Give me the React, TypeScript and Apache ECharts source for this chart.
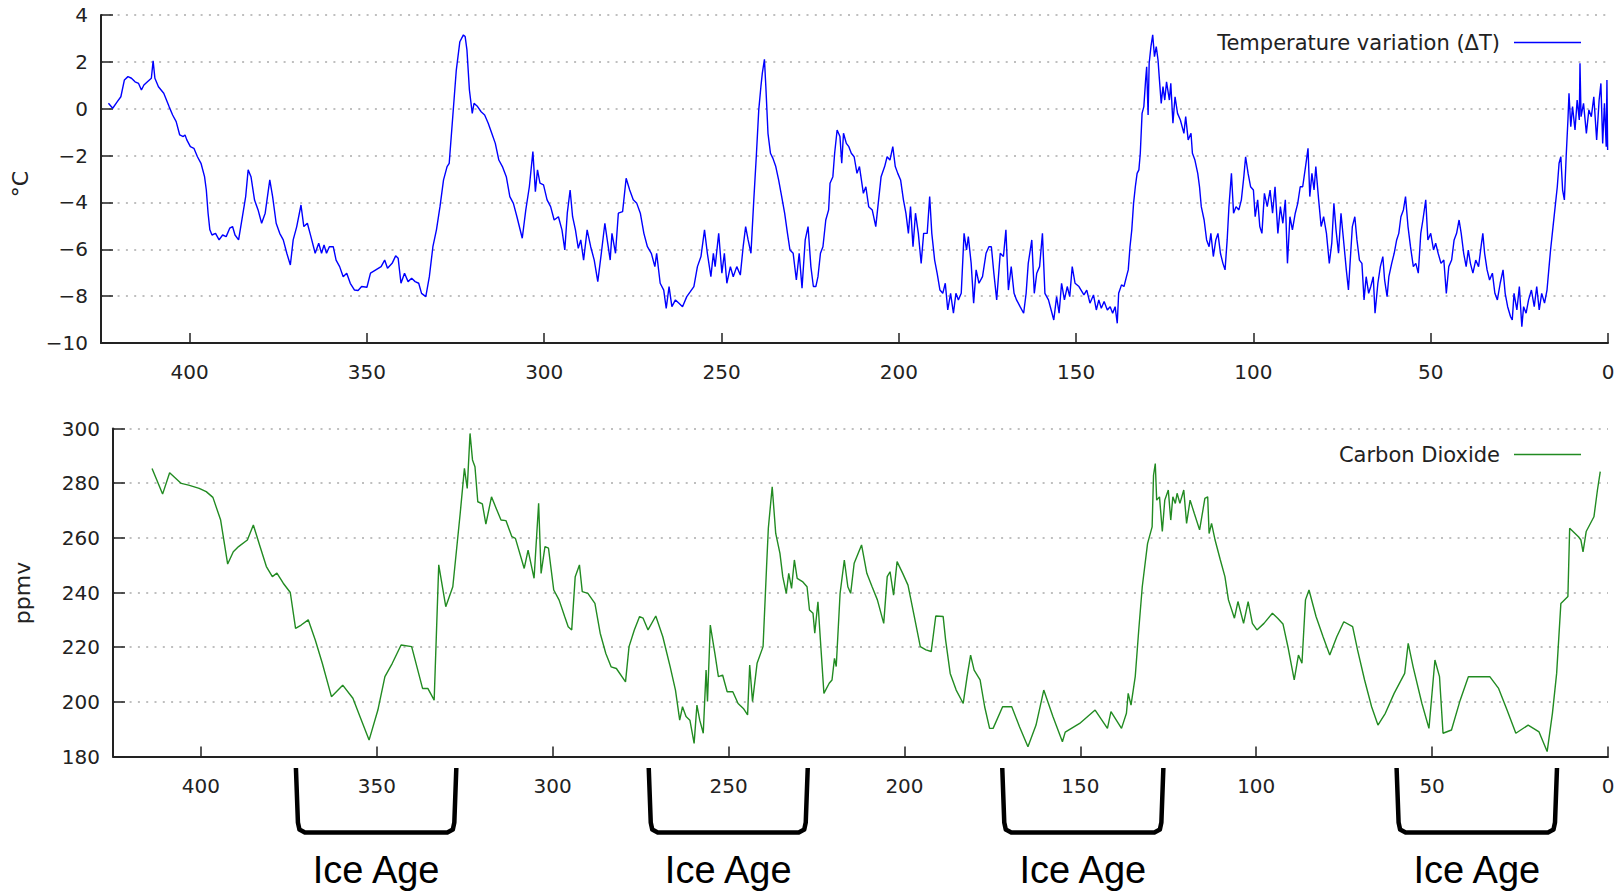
import React, { useEffect, useRef } from "react";
import * as echarts from "echarts";

// Vostok ice core record: age in thousands of years before present
const ageTicks = [0, 50, 100, 150, 200, 250, 300, 350, 400];

// [age (kyr BP), temperature variation ΔT (°C)]
const temperature: [number, number][] = [
  [422.9, 0.23], [421.7, 0.02], [420.4, 0.3], [419.4, 0.51], [418.4, 1.23], [417.4, 1.37], [416.4, 1.3],
  [415.4, 1.15], [414.4, 1.08], [413.6, 0.8], [412.9, 1.01], [411.9, 1.15], [410.8, 1.3], [410.3, 2.04],
  [409.8, 1.3], [408.8, 0.94], [407.3, 0.66], [405.8, 0.09], [404.8, -0.27], [403.8, -0.55], [402.8, -1.12],
  [401.8, -1.19], [401.3, -1.12], [400.8, -1.33], [399.8, -1.62], [398.8, -1.69], [397.8, -2.05], [396.8, -2.33],
  [395.8, -2.9], [395.3, -3.47], [394.8, -4.46], [394.3, -5.17], [393.7, -5.39], [392.7, -5.32], [391.7, -5.6],
  [390.7, -5.39], [389.7, -5.46], [388.7, -5.1], [387.9, -5.03], [387.2, -5.39], [386.2, -5.6], [385.2, -4.68],
  [384.2, -3.75], [383.5, -2.61], [382.7, -2.9], [381.7, -3.9], [380.7, -4.32], [379.7, -4.89], [378.7, -4.46],
  [377.4, -3.04], [376.6, -3.75], [375.6, -4.89], [374.6, -5.32], [373.6, -5.6], [372.6, -6.17], [371.6, -6.67],
  [370.8, -5.6], [369.8, -5.03], [368.6, -4.11], [367.8, -5.03], [366.8, -4.89], [365.8, -5.46], [364.6, -6.17],
  [363.6, -5.74], [362.8, -6.17], [362.1, -5.82], [361.4, -6.17], [360.6, -5.89], [359.5, -5.89], [358.7, -6.46],
  [357.7, -6.74], [356.7, -7.17], [355.7, -7.02], [354.7, -7.45], [353.5, -7.74], [352.5, -7.76], [351.5, -7.59],
  [350.0, -7.62], [349.0, -7.02], [347.5, -6.88], [346.0, -6.74], [345.0, -6.46], [344.2, -6.81], [342.9, -6.6],
  [341.9, -6.28], [341.2, -6.38], [340.4, -7.45], [339.4, -7.02], [338.4, -7.38], [337.4, -7.24], [336.4, -7.38],
  [335.4, -7.45], [334.6, -7.88], [333.4, -8.02], [332.4, -7.17], [331.4, -5.89], [330.4, -5.17], [329.4, -4.18],
  [328.4, -3.04], [327.4, -2.47], [326.8, -2.33], [325.8, -0.34], [324.8, 1.65], [323.8, 2.86], [322.8, 3.15],
  [322.3, 3.08], [321.8, 2.51], [321.1, 0.8], [320.3, -0.2], [319.8, 0.23], [318.8, 0.09], [317.8, -0.13],
  [316.8, -0.27], [315.8, -0.62], [314.8, -1.05], [313.8, -1.48], [312.8, -2.19], [311.8, -2.47], [310.7, -2.9],
  [309.7, -3.75], [308.7, -4.04], [307.7, -4.61], [306.2, -5.53], [305.2, -4.32], [304.2, -3.33], [303.2, -1.83],
  [302.5, -3.54], [301.9, -2.61], [301.2, -3.18], [300.2, -3.25], [299.2, -3.89], [298.2, -4.18], [297.2, -4.75],
  [296.0, -4.61], [295.0, -5.17], [294.2, -6.03], [293.5, -4.46], [292.7, -3.47], [292.0, -4.61], [291.2, -5.17],
  [290.4, -5.96], [289.7, -5.6], [288.9, -6.46], [287.9, -5.17], [286.9, -5.89], [285.9, -6.46], [284.9, -7.38],
  [283.9, -6.17], [282.9, -4.89], [282.1, -5.74], [281.4, -6.46], [280.9, -5.32], [279.9, -6.17], [279.1, -4.46],
  [277.9, -4.39], [276.9, -2.97], [275.9, -3.47], [274.9, -3.89], [273.9, -4.04], [272.9, -4.46], [271.9, -5.32],
  [270.9, -5.89], [269.8, -6.17], [268.8, -6.74], [268.3, -6.17], [267.3, -7.45], [266.3, -7.74], [265.6, -8.52],
  [264.8, -7.59], [264.0, -8.45], [263.0, -8.16], [262.0, -8.3], [261.0, -8.45], [259.8, -8.02], [258.8, -7.81],
  [257.8, -7.59], [256.8, -6.74], [255.8, -6.31], [254.8, -5.17], [254.0, -6.17], [253.0, -7.17], [252.3, -6.17],
  [251.8, -6.74], [250.8, -5.32], [249.9, -7.02], [249.2, -6.17], [248.5, -7.45], [247.5, -6.74], [246.7, -7.17],
  [245.7, -6.74], [244.7, -7.1], [243.9, -5.89], [243.2, -5.03], [242.5, -5.6], [241.7, -6.17], [240.9, -3.89],
  [240.2, -2.05], [239.5, -0.05], [238.9, 0.94], [238.5, 1.51], [237.9, 2.11], [237.5, 0.94], [236.9, -1.05],
  [236.2, -1.9], [235.5, -2.12], [234.7, -2.47], [233.9, -3.04], [233.2, -3.61], [232.2, -4.46], [231.4, -5.32],
  [230.7, -6.03], [229.8, -6.17], [228.9, -7.31], [228.1, -6.17], [227.3, -7.66], [226.4, -5.6], [225.6, -5.03],
  [224.8, -6.74], [224.1, -7.59], [223.4, -7.59], [222.8, -7.17], [222.1, -6.17], [221.4, -5.89], [220.6, -4.75],
  [219.8, -4.32], [219.4, -3.18], [218.6, -2.9], [218.1, -1.9], [217.4, -0.91], [216.6, -1.19], [216.1, -2.33],
  [215.6, -1.05], [214.8, -1.48], [214.1, -1.62], [213.4, -1.9], [212.6, -2.05], [211.8, -2.76], [211.1, -2.47],
  [210.0, -3.61], [209.3, -3.33], [208.5, -4.18], [207.5, -4.32], [206.5, -5.03], [205.7, -3.89], [205.0, -2.9],
  [204.0, -2.47], [203.3, -2.05], [202.5, -2.19], [201.7, -1.62], [201.0, -2.47], [200.3, -2.76], [199.5, -3.04],
  [198.7, -3.89], [198.0, -4.46], [197.3, -5.32], [196.7, -4.18], [196.0, -5.89], [195.3, -4.46], [194.5, -5.32],
  [193.7, -6.6], [193.0, -5.32], [192.0, -5.32], [191.3, -3.75], [190.7, -5.32], [189.9, -6.46], [189.2, -7.02],
  [188.4, -7.74], [187.6, -7.88], [186.9, -7.45], [186.2, -8.59], [185.4, -7.88], [184.6, -8.73], [183.9, -7.88],
  [183.2, -8.16], [182.4, -7.88], [181.6, -5.32], [180.9, -6.03], [180.4, -5.46], [179.6, -6.6], [178.9, -8.3],
  [178.2, -6.88], [177.4, -7.45], [176.4, -7.17], [175.4, -6.17], [174.6, -5.89], [173.9, -5.89], [173.2, -7.02],
  [172.4, -8.16], [171.4, -6.17], [170.5, -6.31], [169.8, -5.17], [169.1, -7.74], [168.3, -6.74], [167.5, -7.88],
  [166.8, -8.16], [165.8, -8.45], [164.8, -8.73], [164.1, -7.88], [163.5, -6.6], [162.5, -5.6], [161.8, -7.88],
  [161.1, -7.02], [160.3, -6.74], [159.5, -5.32], [158.8, -7.88], [157.8, -8.16], [156.8, -8.73], [156.3, -9.02],
  [155.5, -8.02], [154.8, -8.73], [154.1, -7.45], [153.3, -8.16], [152.5, -7.59], [151.8, -8.02], [151.1, -6.74],
  [150.3, -7.45], [149.2, -7.59], [147.8, -7.95], [147.0, -7.74], [146.1, -8.3], [145.1, -7.95], [144.3, -8.59],
  [143.6, -8.16], [142.9, -8.52], [142.1, -8.23], [141.2, -8.59], [140.4, -8.45], [139.7, -8.73], [139.0, -8.45],
  [138.4, -9.16], [138.0, -7.88], [137.2, -7.52], [136.5, -7.59], [135.8, -7.17], [135.3, -6.88], [134.8, -5.89],
  [134.3, -5.17], [133.8, -4.04], [133.3, -3.33], [132.8, -2.76], [132.3, -2.61], [131.9, -1.9], [131.4, -0.2],
  [130.9, 0.09], [130.4, 1.23], [130.1, 1.79], [129.7, -0.27], [129.4, 1.94], [128.9, 2.65], [128.4, 3.15],
  [127.9, 2.22], [127.4, 2.65], [126.9, 2.08], [126.5, 1.23], [126.0, 0.23], [125.5, 0.94], [125.0, 0.37],
  [124.5, 1.15], [123.7, 0.37], [123.3, 1.08], [122.7, -0.62], [122.1, 0.51], [121.4, -0.2], [120.6, -0.48],
  [119.6, -1.05], [119.1, -0.34], [118.4, -1.33], [117.6, -1.05], [117.2, -1.9], [116.5, -2.19], [115.7, -2.76],
  [115.2, -3.33], [114.7, -4.18], [113.9, -4.75], [113.2, -5.6], [112.5, -5.89], [112.0, -5.32], [111.3, -6.31],
  [110.6, -5.6], [110.0, -5.32], [109.3, -6.17], [108.6, -6.6], [108.0, -6.88], [107.4, -5.6], [106.9, -4.18],
  [106.2, -2.76], [105.6, -4.46], [104.9, -4.18], [104.1, -4.32], [103.4, -3.89], [102.7, -2.9], [102.2, -2.05],
  [101.5, -2.76], [100.8, -3.33], [100.0, -3.47], [99.5, -4.61], [98.8, -3.89], [98.2, -5.03], [97.6, -5.32],
  [96.9, -3.61], [96.1, -4.18], [95.3, -3.47], [94.6, -4.46], [93.9, -3.33], [93.1, -5.32], [92.4, -4.18],
  [91.7, -4.89], [91.0, -3.89], [90.4, -6.6], [89.7, -4.61], [89.0, -5.17], [88.2, -4.46], [87.5, -4.04],
  [86.8, -3.33], [86.1, -3.33], [85.3, -2.47], [84.6, -1.69], [84.1, -3.75], [83.5, -2.76], [82.9, -3.47],
  [82.4, -2.47], [81.6, -3.89], [80.9, -5.03], [80.2, -4.61], [79.4, -5.32], [78.6, -6.6], [77.9, -5.74],
  [77.3, -4.04], [76.7, -5.17], [76.0, -6.17], [75.3, -4.46], [74.5, -5.74], [73.8, -6.88], [73.2, -7.74],
  [72.8, -6.74], [72.1, -5.03], [71.4, -4.61], [70.8, -5.6], [70.1, -6.46], [69.4, -6.6], [68.8, -8.16],
  [68.2, -7.17], [67.5, -7.88], [66.9, -7.59], [66.2, -7.17], [65.7, -8.73], [64.9, -7.45], [64.2, -6.74],
  [63.5, -6.31], [63.0, -7.31], [62.3, -8.02], [61.8, -7.17], [61.0, -6.6], [60.3, -6.17], [59.6, -5.6],
  [59.0, -5.32], [58.4, -4.61], [57.7, -4.32], [57.1, -3.75], [56.4, -5.03], [55.7, -5.89], [54.9, -6.74],
  [54.2, -6.6], [53.5, -7.02], [52.8, -5.32], [52.2, -4.75], [51.4, -3.89], [50.8, -5.6], [50.0, -5.32],
  [49.2, -6.03], [48.6, -5.74], [47.9, -6.17], [47.1, -6.6], [46.3, -6.46], [45.6, -7.88], [44.9, -6.74],
  [44.1, -6.46], [43.4, -5.6], [42.7, -5.32], [42.0, -4.75], [41.4, -5.32], [40.7, -6.17], [40.0, -6.74],
  [39.4, -6.03], [38.8, -6.6], [38.1, -7.02], [37.3, -6.46], [36.5, -6.74], [35.8, -5.89], [35.3, -5.32],
  [34.8, -6.17], [34.1, -6.88], [33.4, -7.31], [32.6, -7.02], [31.9, -7.88], [31.2, -8.16], [30.4, -7.45],
  [29.6, -6.88], [29.0, -7.88], [28.3, -8.45], [27.5, -8.87], [27.0, -9.02], [26.5, -7.88], [25.7, -8.59],
  [25.0, -7.59], [24.3, -9.3], [23.8, -8.45], [23.1, -8.73], [22.4, -8.16], [21.6, -7.74], [20.8, -8.45],
  [20.1, -7.59], [19.4, -8.59], [18.7, -7.88], [17.9, -8.3], [17.2, -7.74], [16.7, -6.88], [16.2, -6.03],
  [15.5, -5.03], [14.9, -4.18], [14.3, -3.33], [13.8, -2.33], [13.3, -2.05], [12.8, -3.47], [12.3, -3.89],
  [11.8, -2.05], [11.3, -0.48], [11.0, 0.66], [10.5, -0.77], [10.0, 0.09], [9.3, -0.91], [8.7, 0.37],
  [8.1, -0.48], [7.9, 1.94], [7.6, -0.34], [6.9, 0.23], [6.1, -1.05], [5.4, -0.05], [4.7, -0.34],
  [4.0, 0.51], [3.2, -1.33], [2.5, 0.37], [2.0, 1.08], [1.5, -1.48], [1.0, 0.23], [0.5, -1.62],
  [0.3, 1.23], [0.1, -1.76],
];

// [age (kyr BP), CO2 concentration (ppmv)]
const carbonDioxide: [number, number][] = [
  [413.9, 285.4], [410.9, 276.0], [408.9, 283.8], [405.6, 279.9], [403.5, 279.3], [400.5, 278.1], [398.5, 276.9],
  [396.6, 274.8], [394.4, 266.5], [392.4, 250.4], [390.8, 254.9], [389.3, 256.8], [386.8, 259.2], [385.1, 264.7],
  [383.2, 256.8], [381.4, 249.5], [379.7, 245.8], [378.4, 247.1], [376.6, 243.4], [374.6, 240.0], [373.1, 226.9],
  [371.5, 228.1], [369.5, 230.0], [367.5, 222.6], [365.5, 214.1], [362.9, 201.9], [359.7, 206.1], [356.8, 201.3],
  [354.8, 194.6], [352.2, 186.0], [349.7, 197.0], [347.7, 209.2], [345.6, 214.1], [343.1, 220.8], [340.1, 220.2],
  [337.0, 204.9], [335.5, 204.9], [333.7, 200.6], [332.4, 250.1], [330.4, 234.8], [328.4, 242.1], [326.3, 268.9],
  [325.1, 285.4], [324.3, 278.1], [323.5, 298.2], [322.8, 288.5], [322.1, 286.0], [321.3, 273.2], [320.0, 272.4],
  [319.0, 265.0], [317.4, 275.0], [315.7, 269.6], [314.7, 266.5], [313.3, 266.3], [311.6, 260.4], [310.6, 259.8],
  [308.1, 248.8], [307.0, 255.5], [305.3, 245.2], [304.0, 272.6], [303.3, 247.0], [302.2, 256.8], [301.2, 256.2],
  [299.7, 240.9], [298.2, 237.3], [296.6, 231.2], [295.6, 227.5], [294.6, 226.3], [293.6, 245.8], [292.4, 250.1],
  [291.6, 240.3], [290.0, 239.7], [288.0, 236.0], [286.5, 225.1], [284.9, 217.7], [283.4, 212.8], [281.9, 212.2],
  [279.3, 207.3], [278.3, 220.2], [276.8, 226.3], [275.3, 231.2], [274.3, 230.6], [272.9, 226.3], [270.7, 231.4],
  [268.7, 223.8], [266.6, 212.8], [265.1, 204.3], [263.9, 193.3], [263.1, 198.2], [262.1, 194.6], [261.0, 193.3],
  [259.8, 184.8], [259.0, 198.8], [258.2, 193.3], [257.2, 188.5], [256.4, 211.6], [256.0, 200.1], [255.2, 228.1],
  [253.9, 217.7], [252.9, 209.2], [251.7, 209.8], [250.4, 203.7], [248.8, 203.7], [247.3, 199.4], [245.8, 197.6],
  [244.6, 195.2], [244.0, 213.5], [243.2, 200.1], [241.9, 214.1], [240.2, 220.2], [239.2, 249.5], [238.7, 263.5],
  [237.6, 278.7], [236.6, 261.6], [235.4, 254.3], [234.6, 245.8], [233.6, 239.7], [232.9, 247.0], [232.1, 241.5],
  [231.3, 251.9], [230.5, 245.2], [229.0, 244.0], [227.7, 242.1], [227.0, 233.6], [226.0, 232.4], [225.5, 225.1],
  [224.6, 236.6], [223.9, 222.6], [222.9, 203.1], [221.4, 206.8], [220.6, 208.0], [219.9, 215.9], [219.4, 212.9],
  [218.3, 239.7], [217.1, 251.9], [216.1, 242.1], [215.3, 239.7], [214.3, 250.7], [212.2, 257.4], [210.7, 247.0],
  [209.2, 242.1], [207.7, 237.3], [205.9, 228.7], [204.9, 245.8], [204.1, 247.6], [203.1, 239.0], [202.1, 251.3],
  [200.5, 247.0], [199.0, 242.7], [197.2, 231.2], [195.5, 220.2], [193.9, 219.0], [192.4, 218.4], [191.1, 231.4],
  [189.0, 231.2], [188.3, 222.6], [187.0, 210.4], [185.3, 204.3], [183.3, 199.4], [182.2, 209.2], [181.2, 217.1],
  [180.2, 211.6], [178.5, 208.0], [177.2, 198.2], [175.8, 190.3], [174.8, 190.3], [172.1, 198.2], [169.5, 198.2],
  [167.3, 190.9], [164.9, 183.6], [162.6, 191.5], [160.4, 204.3], [157.8, 194.6], [155.1, 185.4], [154.3, 188.9],
  [150.2, 192.1], [145.8, 197.0], [142.3, 190.3], [141.3, 196.4], [138.3, 190.3], [136.9, 195.8], [136.4, 203.1],
  [135.6, 198.8], [134.4, 209.2], [133.4, 226.3], [132.4, 242.1], [130.9, 257.9], [129.6, 264.0], [129.2, 282.9],
  [128.7, 287.2], [128.3, 273.8], [127.5, 275.0], [126.7, 262.3], [126.0, 273.8], [125.0, 277.5], [124.3, 266.5],
  [123.7, 275.0], [123.0, 272.6], [122.5, 276.3], [121.7, 272.6], [120.6, 277.5], [119.8, 265.3], [118.8, 273.8],
  [117.6, 268.9], [116.1, 262.9], [114.6, 274.4], [113.8, 275.0], [113.4, 261.6], [112.7, 265.3], [111.7, 259.2],
  [110.2, 251.9], [108.9, 245.8], [107.9, 237.3], [106.2, 230.6], [105.2, 236.7], [103.6, 228.7], [102.3, 236.7],
  [101.1, 228.7], [99.8, 226.3], [97.8, 228.7], [95.4, 232.4], [93.9, 230.6], [92.4, 228.5], [90.9, 219.6],
  [89.2, 208.0], [88.0, 217.1], [87.0, 214.1], [86.0, 237.3], [85.0, 240.9], [83.0, 231.2], [81.0, 223.8],
  [79.1, 217.1], [77.1, 223.8], [75.1, 229.3], [72.6, 227.5], [71.2, 219.0], [69.2, 208.0], [67.2, 198.2],
  [65.4, 191.5], [63.3, 195.8], [60.8, 203.1], [57.8, 210.4], [56.8, 221.4], [55.4, 212.8], [52.9, 199.4],
  [50.9, 190.3], [49.2, 215.3], [47.9, 209.2], [46.9, 188.5], [44.5, 189.7], [42.0, 200.7], [39.7, 209.2],
  [33.6, 209.2], [31.1, 204.9], [28.7, 197.0], [26.2, 188.5], [22.7, 191.5], [19.6, 189.0], [17.3, 181.8],
  [15.8, 195.8], [14.6, 210.4], [13.4, 236.0], [11.4, 238.5], [10.9, 263.5], [8.4, 260.4], [7.7, 259.2],
  [7.1, 254.9], [6.2, 262.3], [4.0, 267.7], [3.0, 277.5], [2.2, 284.2],
];

// Glacial periods marked under the CO2 panel: [older bound, younger bound] in kyr BP
const iceAges: [number, number][] = [
  [373.0, 327.4],
  [272.7, 227.5],
  [172.2, 126.4],
  [60.1, 14.5],
];
const iceAgeLabel = "Ice Age";

const temperatureName = "Temperature variation (\u0394T)";
const co2Name = "Carbon Dioxide";

const FONT = "DejaVu Sans";
const TEXT = "#222";

const minusFormat = (v: number) => (v < 0 ? "\u2212" + Math.abs(v) : String(v));

function xAxisFor(gridIndex: number) {
  return {
    type: "value",
    gridIndex,
    min: 0,
    max: 425,
    interval: 50,
    inverse: true,
    axisLine: { show: true, onZero: false, lineStyle: { color: "#222", width: 2 } },
    axisTick: { show: true, inside: true, length: 10, customValues: ageTicks, lineStyle: { color: "#222", width: 1.5 } },
    axisLabel: {
      customValues: ageTicks,
      formatter: (v: number) => (v % 50 === 0 ? String(v) : ""),
      fontFamily: FONT,
      fontSize: 20,
      color: TEXT,
      margin: 19,
    },
    splitLine: { show: false },
  };
}

function yAxisFor(gridIndex: number, min: number, max: number, interval: number) {
  return {
    type: "value",
    gridIndex,
    position: "left",
    min,
    max,
    interval,
    axisLine: { show: true, onZero: false, lineStyle: { color: "#222", width: 2 } },
    axisTick: { show: true, inside: true, length: 12, lineStyle: { color: "#222", width: 1.5 } },
    axisLabel: { formatter: minusFormat, fontFamily: FONT, fontSize: 20, color: TEXT, margin: 13 },
    splitLine: { show: true, lineStyle: { color: "#aaa", width: 1.6, type: [2, 6.3] } },
  };
}

function legendFor(name: string, top: number, color: string) {
  return {
    data: [{ name, icon: "rect", itemStyle: { color } }],
    right: 43,
    top,
    align: "right",
    padding: 0,
    itemWidth: 67,
    itemHeight: 1.6,
    selectedMode: false,
    textStyle: { fontFamily: FONT, fontSize: 21, color: TEXT, padding: [0, 9, 0, 0] },
  };
}

export default function App() {
  const ref = useRef<HTMLDivElement>(null);

  useEffect(() => {
    if (!ref.current) return;
    const chart = echarts.init(ref.current, undefined, { renderer: "svg" });

    const option: any = {
      animation: false,
      backgroundColor: "#fff",
      textStyle: { fontFamily: FONT },
      grid: [
        { left: 101, right: 16, top: 15, height: 328 },
        { left: 113, right: 16, top: 428.5, height: 328 },
      ],
      xAxis: [xAxisFor(0), xAxisFor(1)],
      yAxis: [yAxisFor(0, -10, 4, 2), yAxisFor(1, 180, 300, 20)],
      legend: [legendFor(temperatureName, 32, "#0000ff"), legendFor(co2Name, 444, "#228b22")],
      graphic: [
        {
          type: "text",
          x: 20,
          y: 184,
          rotation: Math.PI / 2,
          style: { text: "\u00B0C", fontFamily: FONT, fontSize: 22, fill: TEXT, align: "center", verticalAlign: "middle" },
        },
        {
          type: "text",
          x: 22,
          y: 593,
          rotation: Math.PI / 2,
          style: { text: "ppmv", fontFamily: FONT, fontSize: 22, fill: TEXT, align: "center", verticalAlign: "middle" },
        },
      ],
      series: [
        {
          name: temperatureName,
          type: "line",
          xAxisIndex: 0,
          yAxisIndex: 0,
          data: temperature,
          symbol: "none",
          showSymbol: false,
          silent: true,
          lineStyle: { color: "#0000ff", width: 1.4 },
          itemStyle: { color: "#0000ff" },
        },
        {
          name: co2Name,
          type: "line",
          xAxisIndex: 1,
          yAxisIndex: 1,
          data: carbonDioxide,
          symbol: "none",
          showSymbol: false,
          silent: true,
          lineStyle: { color: "#228b22", width: 1.4 },
          itemStyle: { color: "#228b22" },
        },
        {
          name: "iceAges",
          type: "custom",
          xAxisIndex: 1,
          yAxisIndex: 1,
          data: iceAges,
          clip: false,
          silent: true,
          renderItem: (_params: any, api: any) => {
            const xa = api.coord([api.value(0), 180])[0];
            const xb = api.coord([api.value(1), 180])[0];
            const base = api.coord([0, 180])[1];
            const top = base + 11.5;
            const bottom = base + 76;
            const cx = (xa + xb) / 2;
            return {
              type: "group",
              children: [
                {
                  type: "polyline",
                  shape: {
                    points: [
                      [xa, top],
                      [xa + 2, bottom - 10],
                      [xa + 3.5, bottom - 3],
                      [xa + 9, bottom],
                      [xb - 9, bottom],
                      [xb - 3.5, bottom - 3],
                      [xb - 2, bottom - 10],
                      [xb, top],
                    ],
                  },
                  style: { stroke: "#000", lineWidth: 4.5, fill: null, lineJoin: "round" },
                },
                {
                  type: "text",
                  style: {
                    text: iceAgeLabel,
                    x: cx,
                    y: base + 113,
                    align: "center",
                    verticalAlign: "middle",
                    fontFamily: "Liberation Sans",
                    fontSize: 38,
                    fill: "#000",
                  },
                },
              ],
            };
          },
        },
      ],
    };

    chart.setOption(option);
    return () => chart.dispose();
  }, []);

  return (
    <div
      ref={ref}
      style={{ position: "fixed", left: 0, top: 0, width: 1624, height: 891, background: "#fff" }}
    />
  );
}
